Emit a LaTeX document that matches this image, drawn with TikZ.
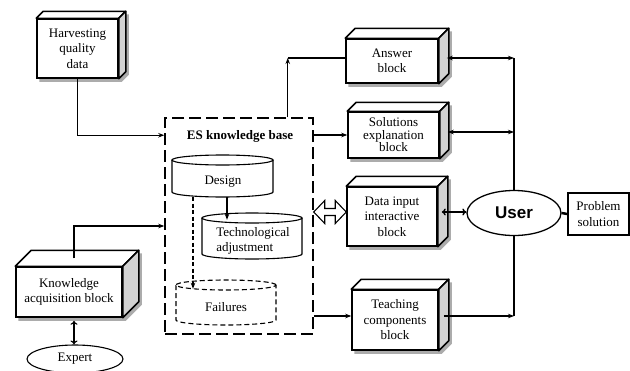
\documentclass[tikz,border=0pt]{standalone}
\usepackage{fontspec}
\setmainfont{Liberation Serif}
\newfontfamily\usersf{Liberation Sans}
\usetikzlibrary{arrows.meta,calc,shapes.geometric}
\pgfdeclarelayer{background}
\pgfsetlayers{background,main}
\tikzset{
  face/.style={draw, fill=white, line width=1.5pt, inner sep=1pt, align=center,
    font=\fontsize{13}{15.5}\selectfont},
  conn/.style={line width=1.4pt},
  thinconn/.style={line width=1.1pt},
  tip/.style={-{Stealth[length=6pt,width=4.5pt]}},
  dtip/.style={{Stealth[length=6pt,width=4.5pt]}-{Stealth[length=6pt,width=4.5pt]}},
  vtip/.style={{To[length=4pt,width=7pt]}-{To[length=4pt,width=7pt]}},
  sidefill/.style={fill=gray!35},
  shadowfill/.style={fill=gray!65},
}
% \blk[style]{name}{x}{y}{w}{h}{depth}{text}
\newcommand\blk[8][]{%
  \node[face, minimum width=#5pt, minimum height=#6pt, #1] (#2) at (#3,#4) {#8};
  \begin{pgfonlayer}{background}
    \fill[shadowfill] ([shift={(3pt,-3pt)}]#2.south west) -- ([shift={(3pt,-3pt)}]#2.south east)
      -- ([shift={(#7pt+3pt,#7pt-3pt)}]#2.south east) -- ([shift={(#7pt+3pt,#7pt-3pt)}]#2.north east)
      -- ([shift={(#7pt+3pt,#7pt-3pt)}]#2.north west) -- ([shift={(3pt,-3pt)}]#2.north west) -- cycle;
  \end{pgfonlayer}
  \draw[line width=1.5pt, fill=white, line join=round] (#2.north west) -- ([shift={(#7pt,#7pt)}]#2.north west)
    -- ([shift={(#7pt,#7pt)}]#2.north east) -- (#2.north east) -- cycle;
  \draw[line width=1.5pt, sidefill, line join=round] (#2.north east) -- ([shift={(#7pt,#7pt)}]#2.north east)
    -- ([shift={(#7pt,#7pt)}]#2.south east) -- (#2.south east) -- cycle;
}
% \cyl{name}{L}{R}{T}{B}{e}{style}
\newcommand\cyl[7]{%
  \node[minimum width={(#3-#2)*1pt}, minimum height={(#5-#4)*1pt}, inner sep=0pt] (#1) at ({(#2+#3)/2},{(#4+#5)/2}) {};
  \draw[#7, fill=white] (#2,#4+#6) -- (#2,#5-#6)
    arc[start angle=180, end angle=360, x radius={(#3-#2)/2*1pt}, y radius=#6pt] -- (#3,#4+#6);
  \draw[#7, fill=white] ({(#2+#3)/2},#4+#6) ellipse [x radius={(#3-#2)/2*1pt}, y radius=#6pt];
}
\begin{document}
\begin{tikzpicture}[x=1pt, y=-1pt, font=\fontsize{13}{15.5}\selectfont]
\useasboundingbox (0,0) rectangle (630,370);

% ES knowledge base
\node[draw, line width=1.5pt, dash pattern=on 12pt off 5pt, minimum width=148pt, minimum height=216pt, inner sep=0pt] (esb) at (239,226) {};
\node[font=\bfseries\fontsize{13}{15.5}\selectfont] (eslab) at (240,136) {ES knowledge base};

\cyl{design}{172}{273}{155}{197}{5}{line width=1.1pt}
\node (designt) at (223,182) {Design};
\cyl{tech}{202}{302}{213}{259}{5}{line width=1.1pt}
\node[align=left] (techt) at (253,241) {Technological\\adjustment};
\cyl{fail}{176}{276}{280}{325}{5}{line width=1.1pt, dash pattern=on 5pt off 3pt}
\node (failt) at (226,307) {Failures};

\draw[thinconn, tip] ([xshift=4.5pt]design.south) -- ([shift={(-25pt,-7pt)}]tech.north);
\draw[thinconn, tip, dash pattern=on 4pt off 2.5pt] ([xshift=-29.5pt]design.south) -- ([shift={(-33pt,-9pt)}]fail.north);

% blocks
\blk{hv}{77.5}{48.5}{81}{59}{7}{Harvesting\\quality\\data}
\blk{ka}{69}{292}{106}{50}{16}{Knowledge\\acquisition block}
\blk{ans}{392}{61}{92}{44}{10}{Answer\\block}
\blk[font=\fontsize{13}{12.5}\selectfont]{sol}{393.5}{135}{91}{46}{9}{Solutions\\explanation\\block}
\blk{dat}{392}{216.5}{90}{59}{10}{Data input\\interactive\\block}
\blk{tch}{395}{320}{86}{60}{10}{Teaching\\components\\block}

\node[ellipse, draw, line width=1.3pt, minimum width=94pt, minimum height=45pt, inner sep=0pt,
  font=\usersf\bfseries\fontsize{17}{20}\selectfont] (user) at (514,213) {User};
\node[draw, line width=1.5pt, minimum width=61pt, minimum height=42pt, align=center, inner sep=1pt] (ps) at (598.5,214) {Problem\\solution};
\node[ellipse, draw, line width=1.1pt, minimum width=96pt, minimum height=28pt, inner sep=0pt] (exp) at (75,359) {Expert};

% connectors
\draw[conn, tip] (hv.south) |- ([yshift=-18pt]esb.north west);
\coordinate (kat) at ([shift={(5pt,8pt)}]ka.north);
\draw[conn, tip] (kat) |- (esb.west);
\coordinate (kab) at ([shift={(5pt,-3pt)}]ka.south);
\draw[thinconn, vtip] (kab) -- (kab |- exp.north);

\coordinate (esa) at ([xshift=-26pt]esb.north east);
\coordinate (answ) at ([yshift=3pt]ans.west);
\coordinate (c1) at (esa |- answ);
\draw[conn, tip] (esa) -- (c1);
\draw[conn] (c1) -- (answ);
\draw[conn, tip] (esb.east |- sol.west) -- (sol.west);
\coordinate (tw) at ([yshift=4pt]tch.west);
\draw[conn, tip] (esb.east |- tw) -- (tw);

% hollow double arrow
\coordinate (hw) at ([yshift=4.5pt]dat.west);
\coordinate (he) at (esb.east |- hw);
\draw[line width=1.1pt, fill=white, line join=miter] (he) -- ++(11,-11.5) -- ++(0,8) -- ($(hw)+(-11,-3.5)$) -- ++(0,-8) -- (hw)
  -- ++(-11,11.5) -- ++(0,-8) -- ($(he)+(11,3.5)$) -- ++(0,8) -- cycle;

\coordinate (dr) at ([shift={(4pt,4.5pt)}]dat.east);
\draw[conn, vtip] (dr) -- (dr -| user.west);

\draw[line width=2.5pt] (user.east) -- (ps.west);

\coordinate (ar) at ([shift={(8pt,3pt)}]ans.east);
\coordinate (b1) at (user.north |- ar);
\draw[thinconn, dtip] (ar) -- (b1);
\draw[conn] (b1) -- (user.north);
\coordinate (sr) at ([shift={(8pt,3pt)}]sol.east);
\draw[conn, dtip] (sr) -- (user.north |- sr);
\coordinate (tr) at ([shift={(5pt,4pt)}]tch.east);
\coordinate (b3) at (user.south |- tr);
\draw[conn, tip] (tr) -- (b3);
\draw[conn] (user.south) -- (b3);
\end{tikzpicture}
\end{document}
